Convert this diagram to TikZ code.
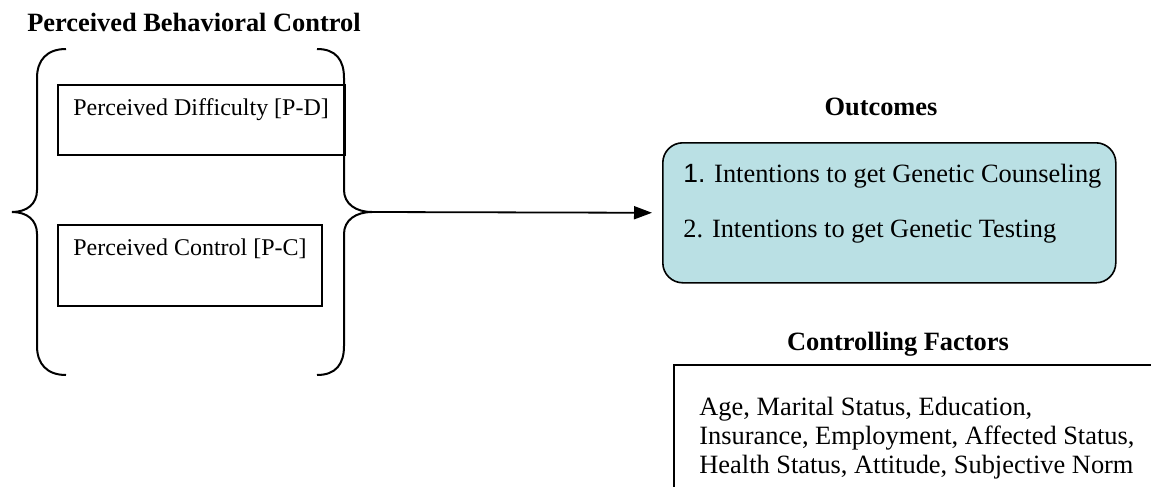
\documentclass[tikz,border=0pt]{standalone}
\usepackage{fontspec}
\setmainfont{Liberation Serif}
\setsansfont{Liberation Sans}
\usepackage{tikz}
\usetikzlibrary{arrows.meta}
\usetikzlibrary{calc}
\usetikzlibrary{positioning}
\definecolor{outfill}{RGB}{186,224,228}

\begin{document}
\begin{tikzpicture}[
        x=0.5pt, y=-0.5pt,
        brace/.style={line width=1pt},
        box/.style={draw, line width=0.8pt, inner sep=0pt, anchor=north west},
        title/.style={font=\fontsize{13.2}{15}\selectfont\bfseries, inner sep=0pt, anchor=base},
        small label/.style={font=\fontsize{12}{14}\selectfont, inner sep=0pt, anchor=base west},
        big label/.style={font=\fontsize{13.2}{14.5}\selectfont, inner sep=0pt, anchor=north west,
        align=left},
        pile/.style={line width=0.9pt, -{Triangle[length=9pt,width=6.5pt]}, shorten >=5pt}
        ]
        \useasboundingbox (0,0) rectangle (1151,487);

        % braces
        \coordinate (ltip) at (12,212);
        \coordinate (rtip) at (372,212);
        \draw[brace] (66,49) .. controls (47,49) and (37,60) .. (37,78) -- (37,190)
            .. controls (37,204) and (27,212) .. (ltip)
            .. controls (27,212) and (37,220) .. (37,234) -- (37,346)
            .. controls (37,364) and (47,375) .. (66,375);
        \draw[brace] (317,49) .. controls (336,49) and (344,60) .. (344,78) -- (344,190)
            .. controls (344,204) and (356,212) .. (rtip)
            .. controls (356,212) and (344,220) .. (344,234) -- (344,346)
            .. controls (344,364) and (336,375) .. (317,375);

        % boxes
        \node[box, minimum width=143.5pt, minimum height=35pt] (pd) at (57,84) {};
        \node[box, minimum width=132pt, minimum height=40.5pt] (pc) at (57,224) {};
        \node[box, fill=outfill, rounded corners=10pt, minimum width=226.5pt,
            minimum height=70pt] (out) at (662,142) {};
        \node[box, minimum width=300pt, minimum height=100pt] (cf) at (673,364) {};

        % texts
        \node[title] (pbc) at (194,32) {Perceived Behavioral Control};
        \node[small label] (pdtext) at (73,115) {Perceived Difficulty [P-D]};
        \node[small label] (pctext) at (73,255) {Perceived Control [P-C]};
        \node[title] (outtitle) at (881,115) {Outcomes};
        \node[big label] (outtext) at (683,164)
            {{\sffamily 1.} Intentions to get Genetic Counseling\\[13pt]
            2. Intentions to get Genetic Testing};
        \node[title] (cftitle) at (898,350) {Controlling Factors};
        \node[big label] (cftext) at (699,397)
            {Age, Marital Status, Education,\\
            Insurance, Employment, Affected Status,\\
            Health Status, Attitude, Subjective Norm};

        \draw[pile] (rtip) -- (out.west);

    \end{tikzpicture}
\end{document}
